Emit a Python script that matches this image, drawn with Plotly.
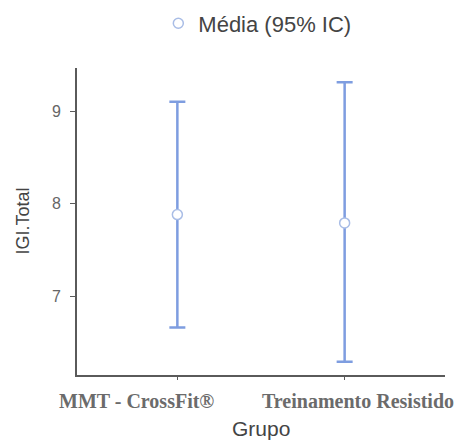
import plotly.graph_objects as go

groups = ["MMT - CrossFit®", "Treinamento Resistido"]
means = [7.88, 7.79]
upper = [9.10, 9.31]
lower = [6.66, 6.29]

err_plus = [u - m for u, m in zip(upper, means)]
err_minus = [m - l for m, l in zip(means, lower)]

fig = go.Figure()
fig.add_trace(go.Scatter(
    x=[0, 1], y=means, mode="markers", name="Média (95% IC)",
    marker=dict(symbol="circle", size=10, color="white",
                line=dict(color="#a9bde6", width=1.5)),
    error_y=dict(type="data", symmetric=False, array=err_plus, arrayminus=err_minus,
                 color="#7e9de0", thickness=2.5, width=8),
))

annotations = []
shifts = [-41, 13]
for i, (g, s) in enumerate(zip(groups, shifts)):
    annotations.append(dict(
        x=i, xref="x", y=0, yref="paper", yanchor="middle", xanchor="center",
        xshift=s, yshift=-26, text=g, showarrow=False,
        font=dict(family="Liberation Serif", size=20, color="#6b6b6b", weight="bold"),
    ))
annotations.append(dict(
    x=0.5, xref="paper", y=0, yref="paper", yanchor="middle", xanchor="center",
    yshift=-53, text="Grupo", showarrow=False,
    font=dict(family="Liberation Sans", size=21, color="#444444"),
))
annotations.append(dict(
    x=0, xref="paper", y=0.5, yref="paper", yanchor="middle", xanchor="center",
    xshift=-55, text="IGI.Total", textangle=-90, showarrow=False,
    font=dict(family="Liberation Sans", size=18, color="#444444"),
))

fig.update_layout(
    width=471, height=441,
    margin=dict(l=77, r=26, t=68, b=66, autoexpand=False),
    paper_bgcolor="white", plot_bgcolor="white",
    showlegend=True,
    legend=dict(orientation="h", x=0.49, xanchor="center", y=1.145, yanchor="middle",
                font=dict(family="Liberation Sans", size=22, color="#444444"),
                bgcolor="rgba(0,0,0,0)"),
    annotations=annotations,
    xaxis=dict(range=[-0.6, 1.6], tickvals=[0, 1], ticktext=["", ""],
               showgrid=False, zeroline=False, showline=True, linecolor="#5a5a5a",
               linewidth=2, ticks="outside", ticklen=3, tickcolor="#5a5a5a"),
    yaxis=dict(range=[6.146, 9.465], tickvals=[7, 8, 9],
               showgrid=False, zeroline=False, showline=True, linecolor="#5a5a5a",
               linewidth=2, ticks="outside", ticklen=5, tickcolor="#5a5a5a",
               ticklabelstandoff=6,
               tickfont=dict(family="Liberation Sans", size=16, color="#666666")),
)

fig.write_html("out.html")
